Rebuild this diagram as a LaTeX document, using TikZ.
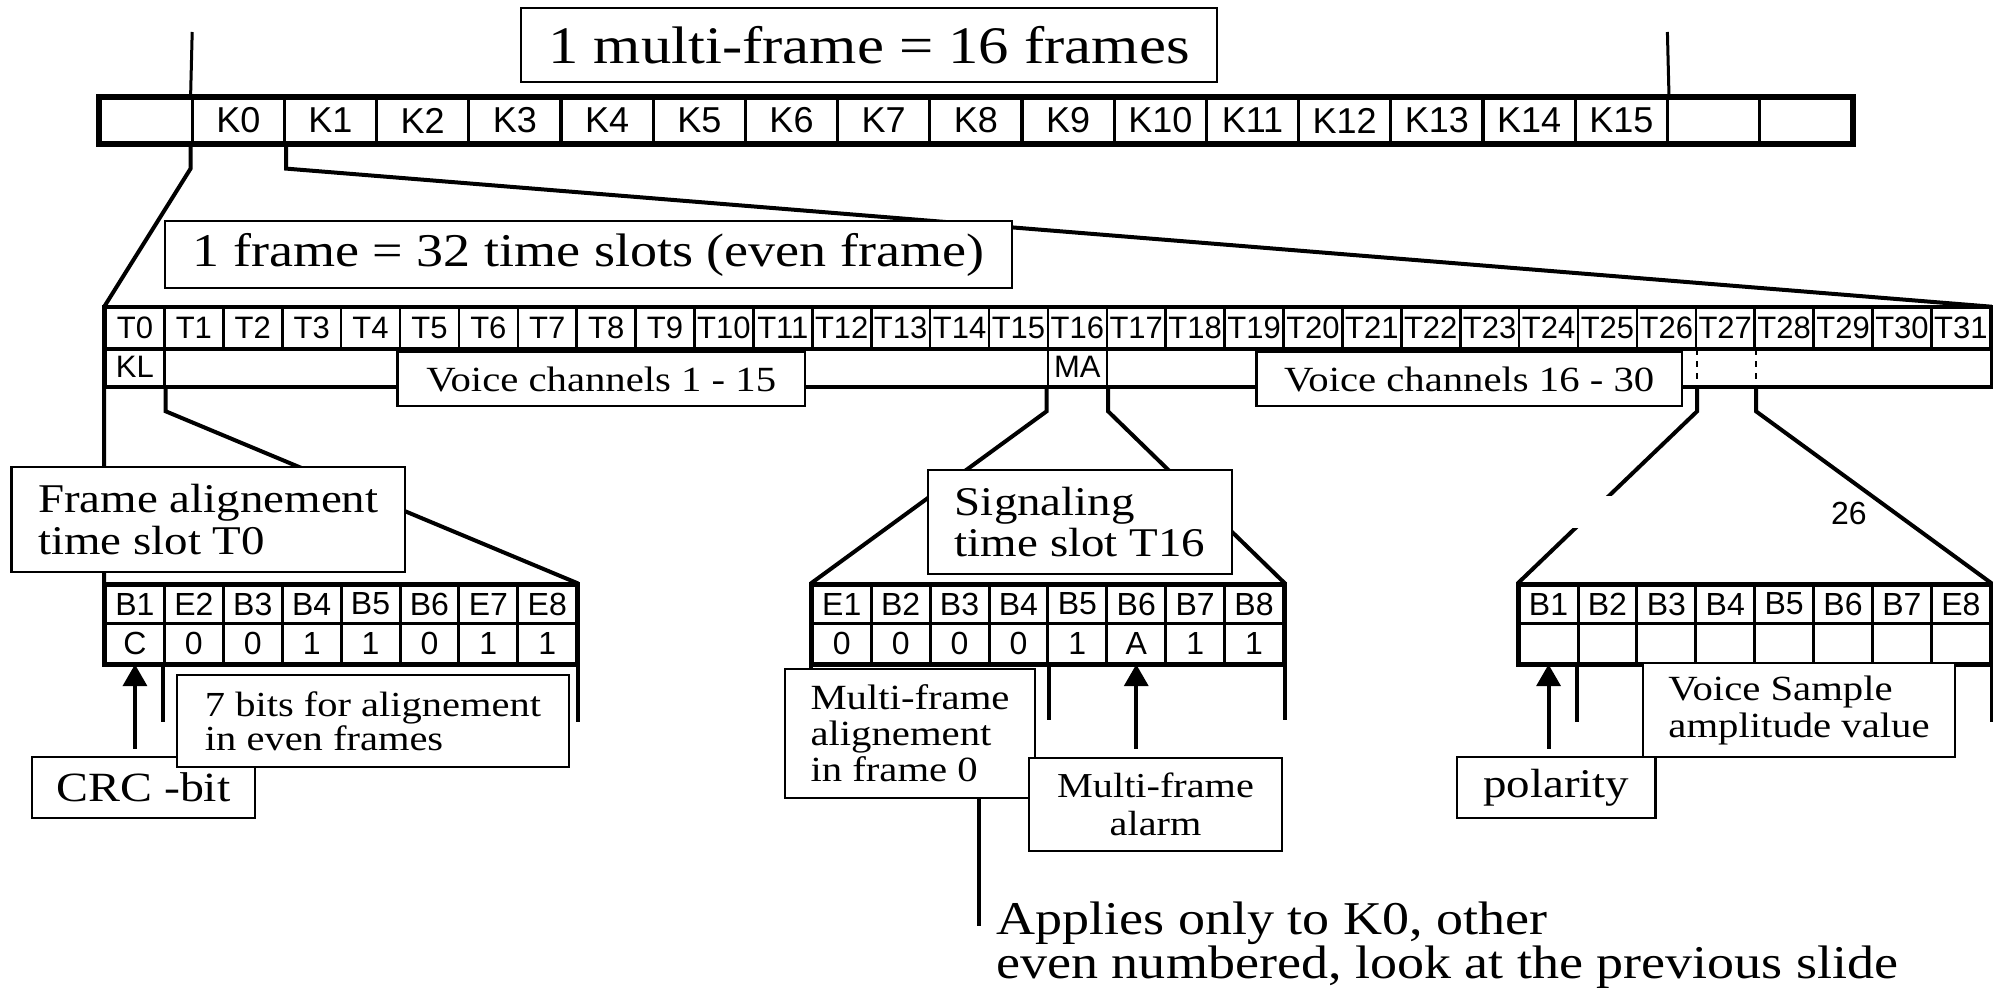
\documentclass[tikz,border=0pt]{standalone}
\usepackage{fontspec}
\setmainfont{Liberation Serif}[FakeStretch=1.15]
\setsansfont{Liberation Sans}
\usepackage{tikz}
\usetikzlibrary{shapes,arrows,calc}
\newcommand{\fsz}[2]{\fontsize{#1}{#2}\selectfont}
\tikzstyle{box} = [rectangle, draw, fill=white, line width=1.3pt, inner sep=0pt, align=left]
\tikzstyle{kcell} = [rectangle, draw, line width=1.6pt, inner sep=0pt, minimum width=46.1pt, minimum height=22.5pt, font=\sffamily\fsz{18}{18}]
\tikzstyle{tcell} = [rectangle, draw, line width=1.3pt, inner sep=0pt, minimum width=29.45pt, minimum height=20pt, font=\sffamily\fsz{15.5}{15.5}]
\tikzstyle{bcell} = [rectangle, draw, line width=1.5pt, inner sep=0pt, minimum width=29.45pt, minimum height=19pt, font=\sffamily\fsz{16}{16}]
\tikzstyle{link} = [draw, line width=2pt]
\tikzstyle{arrow} = [draw, line width=2pt, -triangle 60]

\begin{document}
\begin{tikzpicture}[x=0.5pt, y=-0.5pt]
      \pgfmathsetmacro{\kx}{100}
      \pgfmathsetmacro{\kw}{92.2}
      \pgfmathsetmacro{\tx}{105.5}
      \pgfmathsetmacro{\tw}{58.9}
      \useasboundingbox (0, 0) rectangle (1993, 990);
      % multi-frame row
      \node [kcell] at (\kx + 0.5 * \kw, 120.5) (kl0) {};
      \foreach \i in {0,...,15}
        \node [kcell] at (\kx + \i * \kw + 1.5 * \kw, 120.5) (k\i) {K\i};
      \node [kcell] at (\kx + 17.5 * \kw, 120.5) (kr0) {};
      \node [kcell] at (\kx + 18.5 * \kw, 120.5) (kr1) {};
      \draw [line width=2.5pt] (kl0.north west) rectangle (kr1.south east);
      % time slots
      \foreach \i in {0,...,31}
        \node [tcell] at (\tx + \i * \tw + 0.5 * \tw, 328) (t\i) {T\i};
      \node [tcell, minimum height=19pt] at (\tx + 0.5 * \tw, 367) (kl) {KL};
      \node [tcell, minimum height=19pt] at (\tx + 16.5 * \tw, 367) (ma) {MA};
      \draw [line width=1.3pt] (t0.south west) rectangle (t31.south east |- kl.south);
      \draw [line width=2pt] (t0.north west) rectangle (t31.south east |- kl.south);
      \draw [dashed, line width=1pt] (t26.south east) -- (t26.south east |- kl.south);
      \draw [dashed, line width=1pt] (t27.south east) -- (t27.south east |- kl.south);
      % bit tables
      \foreach \h/\v [count=\i from 0] in {B1/C, E2/0, B3/0, B4/1, B5/1, B6/0, E7/1, E8/1} {
        \node [bcell] at (\tx + \i * \tw + 0.5 * \tw, 604) (fa\i) {\h};
        \node [bcell, minimum height=20pt] at (\tx + \i * \tw + 0.5 * \tw, 643) (fav\i) {\v};
      }
      \foreach \h/\v [count=\i from 0] in {E1/0, B2/0, B3/0, B4/0, B5/1, B6/A, B7/1, B8/1} {
        \node [bcell] at (\tx + \i * \tw + 12.5 * \tw, 604) (sg\i) {\h};
        \node [bcell, minimum height=20pt] at (\tx + \i * \tw + 12.5 * \tw, 643) (sgv\i) {\v};
      }
      \foreach \h [count=\i from 0] in {B1, B2, B3, B4, B5, B6, B7, E8} {
        \node [bcell] at (\tx + \i * \tw + 24.5 * \tw, 604) (vs\i) {\h};
        \node [bcell, minimum height=20pt] at (\tx + \i * \tw + 24.5 * \tw, 643) (vsv\i) {};
      }
      \draw [line width=2pt] (fa0.north west) rectangle (fav7.south east);
      \draw [line width=2pt] (sg0.north west) rectangle (sgv7.south east);
      \draw [line width=2pt] (vs0.north west) rectangle (vsv7.south east);
      % zoom lines
      \coordinate (mfleft) at (\kx + \kw, 32);
      \coordinate (mfright) at (\kx + 17 * \kw, 32);
      \path [link, line width=1.5pt] (mfleft) -- (k0.north west);
      \path [link, line width=1.5pt] (mfright) -- (k15.north east);
      \path [link] (k0.south west) -- ++(0, 24) -- (t0.north west);
      \path [link] (k0.south east) -- ++(0, 24) -- (t31.north east);
      \path [link] (kl.south west) -- (fa0.north west);
      \path [link] (kl.south east) -- ++(0, 24) -- (fa7.north east);
      \path [link] (ma.south west) -- ++(0, 24) -- (sg0.north west);
      \path [link] (ma.south east) -- ++(0, 24) -- (sg7.north east);
      \path [link] (t26.south east |- kl.south) -- ++(0, 24) -- (vs0.north west);
      \path [link] (t27.south east |- kl.south) -- ++(0, 24) -- (vs7.north east);
      % below the tables
      \path [arrow] ([yshift=-42pt] fav0.south) -- (fav0.south);
      \path [link] (fav1.south west) -- ++(0, 57);
      \path [link] (fav7.south east) -- ++(0, 57);
      \path [link] (sgv0.south west) -- ++(0, 20);
      \path [link] (sgv3.south east) -- ++(0, 55);
      \path [link] (sgv7.south east) -- ++(0, 55);
      \path [arrow] ([yshift=-42pt] sgv5.south) -- (sgv5.south);
      \path [arrow] ([yshift=-42pt] vsv0.south) -- (vsv0.south);
      \path [link] (vsv1.south west) -- ++(0, 57);
      \path [link] (vsv7.south east) -- ++(0, 57);
      % labels
      \node [box, minimum width=348pt, minimum height=37pt, font=\fsz{26.4}{28}] at (869, 45) (mf) {1 multi-frame = 16 frames};
      \node [box, minimum width=423.5pt, minimum height=33.5pt, font=\fsz{23.5}{25}] at (588.5, 254.5) (fr) {1 frame = 32 time slots (even frame)};
      \node [box, minimum width=203.7pt, minimum height=27pt, font=\fsz{17.7}{19}] at (601.3, 379) (vc1) {Voice channels 1 - 15};
      \node [box, minimum width=212.75pt, minimum height=27pt, font=\fsz{17.7}{19}] at (1469.25, 379) (vc2) {Voice channels 16 - 30};
      \node [box, minimum width=196.75pt, minimum height=52.5pt, font=\fsz{20.4}{21}] at (208.25, 519.5) (fabox) {Frame alignement\\time slot T0};
      \node [box, minimum width=152pt, minimum height=52pt, font=\fsz{20.4}{20.5}] at (1080, 522) (sgbox) {Signaling\\time slot T16};
      \node [box, minimum width=111.5pt, minimum height=30.5pt, font=\fsz{20.8}{22}] at (143.5, 787.5) (crc) {CRC -bit};
      \node [box, minimum width=196pt, minimum height=46pt, font=\fsz{17.6}{17}] at (373, 721) (seven) {7 bits for alignement\\in even frames};
      \node [box, minimum width=125pt, minimum height=64.5pt, font=\fsz{17.7}{18}] at (910, 733.5) (mfa) {Multi-frame\\alignement\\in frame 0};
      \node [box, minimum width=126.5pt, minimum height=46.5pt, align=center, font=\fsz{17.5}{19}] at (1155.5, 804.5) (alarm) {Multi-frame\\alarm};
      \node [box, minimum width=156pt, minimum height=47pt, font=\fsz{17.7}{18.5}] at (1799, 710) (vsamp) {Voice Sample\\amplitude value};
      \node [box, minimum width=99.25pt, minimum height=30.5pt, font=\fsz{20.4}{22}] at (1556.25, 787.5) (pol) {polarity};
      \node [rectangle, fill=white, inner sep=0pt, minimum width=148pt, minimum height=16pt] at (1718, 512) (t26mask) {};
      \node [anchor=east, inner sep=0pt, font=\sffamily\fsz{16}{16}] at (1867, 513) (t26) {26};
      % note on multi-frame alignment
      \coordinate (applyend) at (979, 926);
      \path [link, line width=2.2pt] (applyend |- mfa.south) -- (applyend);
      \node [anchor=north west, align=left, inner sep=0pt, font=\fsz{23.5}{22}] at (996, 901) (applies) {Applies only to K0, other\\even numbered, look at the previous slide};
    \end{tikzpicture}
\end{document}
